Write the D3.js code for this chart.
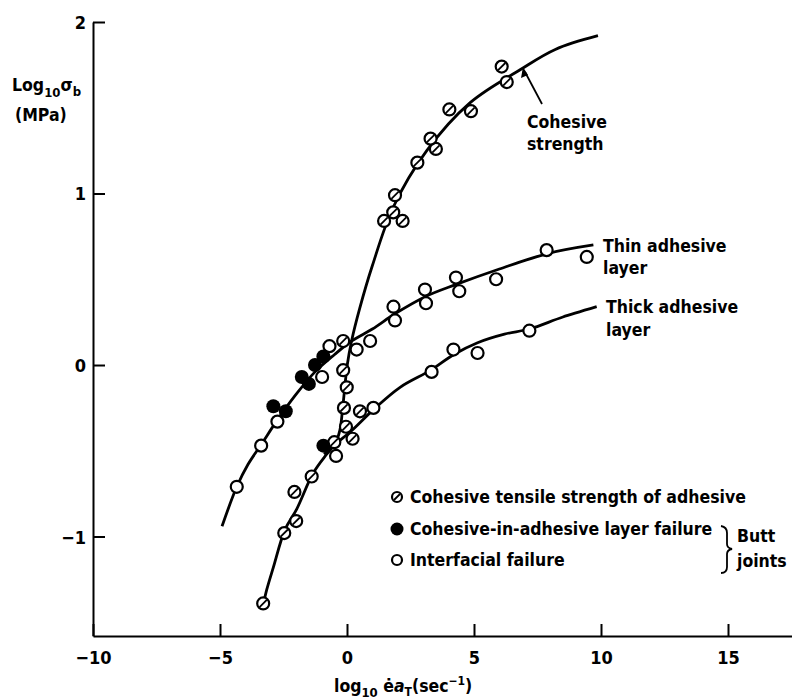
<!DOCTYPE html>
<html>
<head>
<meta charset="utf-8">
<script src="https://cdn.jsdelivr.net/npm/d3@7"></script>
<style>
  body { margin: 0; background: #fff; }
  text { font-family: "DejaVu Sans Condensed", "DejaVu Sans", sans-serif; font-weight: bold; fill: #000; }
</style>
</head>
<body>
<div id="chart"></div>
<script>
var svgWidth = 792;
var svgHeight = 699;

// tick values
var xTicks = [-10, -5, 0, 5, 10, 15];
var yTicks = [-1, 0, 1, 2];

// hatched circles: cohesive tensile strength of adhesive
var cohesivePoints = [
  [-3.30, -1.39], [-2.47, -0.98], [-2.07, -0.74], [-2.00, -0.91], [-1.39, -0.65],
  [-0.50, -0.45], [0.22, -0.43], [0.51, -0.27], [-0.04, -0.36], [-0.12, -0.25],
  [-0.01, -0.13], [-0.15, -0.03], [-0.15, 0.14], [1.46, 0.84], [2.19, 0.84],
  [1.82, 0.89], [1.89, 0.99], [2.77, 1.18], [3.50, 1.26], [3.29, 1.32],
  [4.03, 1.49], [4.88, 1.48], [6.29, 1.65], [6.09, 1.74]
];

// filled circles: cohesive-in-adhesive layer failure
var filledPoints = [
  [-2.90, -0.24], [-2.41, -0.27], [-1.78, -0.07], [-1.50, -0.11],
  [-1.26, 0.00], [-0.93, 0.05], [-0.93, -0.47]
];

// open circles: interfacial failure
var openPoints = [
  [-4.34, -0.71], [-3.38, -0.47], [-2.74, -0.33], [-0.98, -0.07], [-0.69, 0.11],
  [0.38, 0.09], [0.91, 0.14], [1.83, 0.34], [1.89, 0.26], [3.07, 0.44],
  [3.11, 0.36], [4.29, 0.51], [4.42, 0.43], [5.87, 0.50], [7.86, 0.67],
  [9.44, 0.63],
  [-0.43, -0.53], [1.04, -0.25], [3.33, -0.04], [4.19, 0.09], [5.14, 0.07],
  [7.18, 0.20]
];

// fitted curves
var cohesiveCurve = [
  [-3.30, -1.40], [-3.16, -1.31], [-2.90, -1.18], [-2.44, -0.96], [-1.98, -0.84],
  [-1.33, -0.63], [-0.80, -0.52], [-0.47, -0.46], [-0.28, -0.38], [-0.17, -0.25],
  [0.01, 0.00], [0.18, 0.14], [0.50, 0.33], [1.00, 0.58], [1.82, 0.92],
  [3.14, 1.25], [4.85, 1.53], [6.80, 1.72], [8.20, 1.84], [9.88, 1.92]
];

var thinCurve = [
  [-4.92, -0.94], [-4.34, -0.71], [-3.90, -0.58], [-3.36, -0.46], [-2.74, -0.32],
  [-2.00, -0.17], [-1.26, -0.04], [-0.50, 0.06], [0.18, 0.14], [1.00, 0.21],
  [1.90, 0.30], [3.10, 0.40], [4.30, 0.47], [6.00, 0.56], [7.90, 0.65], [9.70, 0.70]
];

var thickCurve = [
  [-0.90, -0.52], [-0.45, -0.46], [0.20, -0.38], [1.04, -0.26], [2.09, -0.13],
  [3.30, -0.03], [4.19, 0.06], [5.14, 0.13], [6.20, 0.18], [7.18, 0.21],
  [8.50, 0.28], [9.83, 0.34]
];

var legendLabels = [
  "Cohesive tensile strength of adhesive",
  "Cohesive-in-adhesive layer failure",
  "Interfacial failure"
];

var svg = d3.select("#chart")
  .append("svg")
  .attr("width", svgWidth)
  .attr("height", svgHeight);

var x = d3.scaleLinear().domain([-10, 17.5]).range([93, 791.5]);
var y = d3.scaleLinear().domain([-1.58, 2]).range([636, 22]);

var fmt = function(d) { return d < 0 ? "\u2212" + Math.abs(d) : d; };

// x axis
var xAxis = svg.append("g")
  .attr("transform", "translate(0, 636)")
  .call(d3.axisBottom(x).tickValues(xTicks).tickSize(-12).tickSizeOuter(0).tickFormat(fmt));
xAxis.selectAll("text").attr("y", 15).attr("dy", "0.71em").style("font-size", "18px");

// y axis
var yAxis = svg.append("g")
  .attr("transform", "translate(93, 0)")
  .call(d3.axisLeft(y).tickValues(yTicks).tickSize(-12).tickSizeOuter(0).tickFormat(fmt));
yAxis.selectAll("text").attr("x", -7).attr("dy", "0.36em").style("font-size", "18px");

svg.selectAll(".domain, .tick line").attr("stroke", "#000").attr("stroke-width", 2);

// curves
var line = d3.line()
  .x(function(d) { return x(d[0]); })
  .y(function(d) { return y(d[1]); })
  .curve(d3.curveCatmullRom.alpha(0.5));

[cohesiveCurve, thinCurve, thickCurve].forEach(function(c) {
  svg.append("path")
    .datum(c)
    .attr("d", line)
    .attr("fill", "none")
    .attr("stroke", "#000")
    .attr("stroke-width", 2.8);
});

// markers
function hatched(sel, r) {
  sel.append("circle").attr("r", r).attr("fill", "#fff").attr("stroke", "#000").attr("stroke-width", 2.2);
  sel.append("line")
    .attr("x1", -r * 0.6).attr("y1", r * 0.6)
    .attr("x2", r * 0.6).attr("y2", -r * 0.6)
    .attr("stroke", "#000").attr("stroke-width", 1.8);
}

svg.append("g").selectAll("g")
  .data(cohesivePoints)
  .enter()
  .append("g")
  .attr("transform", function(d) { return "translate(" + x(d[0]) + "," + y(d[1]) + ")"; })
  .call(hatched, 6);

svg.append("g").selectAll("circle")
  .data(openPoints)
  .enter()
  .append("circle")
  .attr("cx", function(d) { return x(d[0]); })
  .attr("cy", function(d) { return y(d[1]); })
  .attr("r", 6)
  .attr("fill", "#fff")
  .attr("stroke", "#000")
  .attr("stroke-width", 2.2);

svg.append("g").selectAll("circle")
  .data(filledPoints)
  .enter()
  .append("circle")
  .attr("cx", function(d) { return x(d[0]); })
  .attr("cy", function(d) { return y(d[1]); })
  .attr("r", 7)
  .attr("fill", "#000");

// curve labels
function label(txt, lx, ly) {
  svg.append("text").attr("x", lx).attr("y", ly).style("font-size", "17.5px").text(txt);
}
label("Cohesive", 527, 128);
label("strength", 527, 150);
label("Thin adhesive", 603, 252);
label("layer", 603, 274);
label("Thick adhesive", 606, 313);
label("layer", 606, 336);

// arrow to cohesive curve
svg.append("line")
  .attr("x1", 542).attr("y1", 104).attr("x2", 525).attr("y2", 72)
  .attr("stroke", "#000").attr("stroke-width", 1.8);
svg.append("path")
  .attr("d", "M523,67 L521,78 L528,75 Z")
  .attr("fill", "#000");

// axis titles
var yt = svg.append("text").attr("x", 12).attr("y", 91).style("font-size", "17.5px");
yt.append("tspan").text("Log");
yt.append("tspan").attr("dy", 6).style("font-size", "13px").text("10");
yt.append("tspan").attr("dy", -6).text("\u03c3");
yt.append("tspan").attr("dy", 5).style("font-size", "13px").text("b");
svg.append("text").attr("x", 15).attr("y", 121).style("font-size", "17.5px").text("(MPa)");

var xt = svg.append("text").attr("x", 334).attr("y", 692).style("font-size", "17.5px");
xt.append("tspan").text("log");
xt.append("tspan").attr("dy", 5).style("font-size", "13px").text("10");
xt.append("tspan").attr("dy", -5).text(" \u0117");
xt.append("tspan").style("font-style", "italic").text("a");
xt.append("tspan").attr("dy", 4).style("font-size", "12px").text("T");
xt.append("tspan").attr("dy", -4).text("(sec");
xt.append("tspan").attr("dy", -7).style("font-size", "12px").text("\u22121");
xt.append("tspan").attr("dy", 7).text(")");

// legend
var legendY = [497, 529, 560];
var lg = svg.append("g");
lg.append("g").attr("transform", "translate(397," + legendY[0] + ")").call(hatched, 5);
lg.append("circle").attr("cx", 397).attr("cy", legendY[1]).attr("r", 6.5).attr("fill", "#000");
lg.append("circle").attr("cx", 397).attr("cy", legendY[2]).attr("r", 5)
  .attr("fill", "#fff").attr("stroke", "#000").attr("stroke-width", 2.2);
lg.selectAll("text.leg")
  .data(legendLabels)
  .enter()
  .append("text")
  .attr("class", "leg")
  .attr("x", 410)
  .attr("y", function(d, i) { return legendY[i] + 6; })
  .style("font-size", "17.5px")
  .text(function(d) { return d; });

// brace for butt joints
lg.append("path")
  .attr("d", "M721,526 Q727,527 727,533 L727,544 Q727,548 732,549 Q727,550 727,554 L727,567 Q727,573 721,573")
  .attr("fill", "none").attr("stroke", "#000").attr("stroke-width", 1.8);
label("Butt", 737, 542);
label("joints", 737, 567);
</script>
</body>
</html>
